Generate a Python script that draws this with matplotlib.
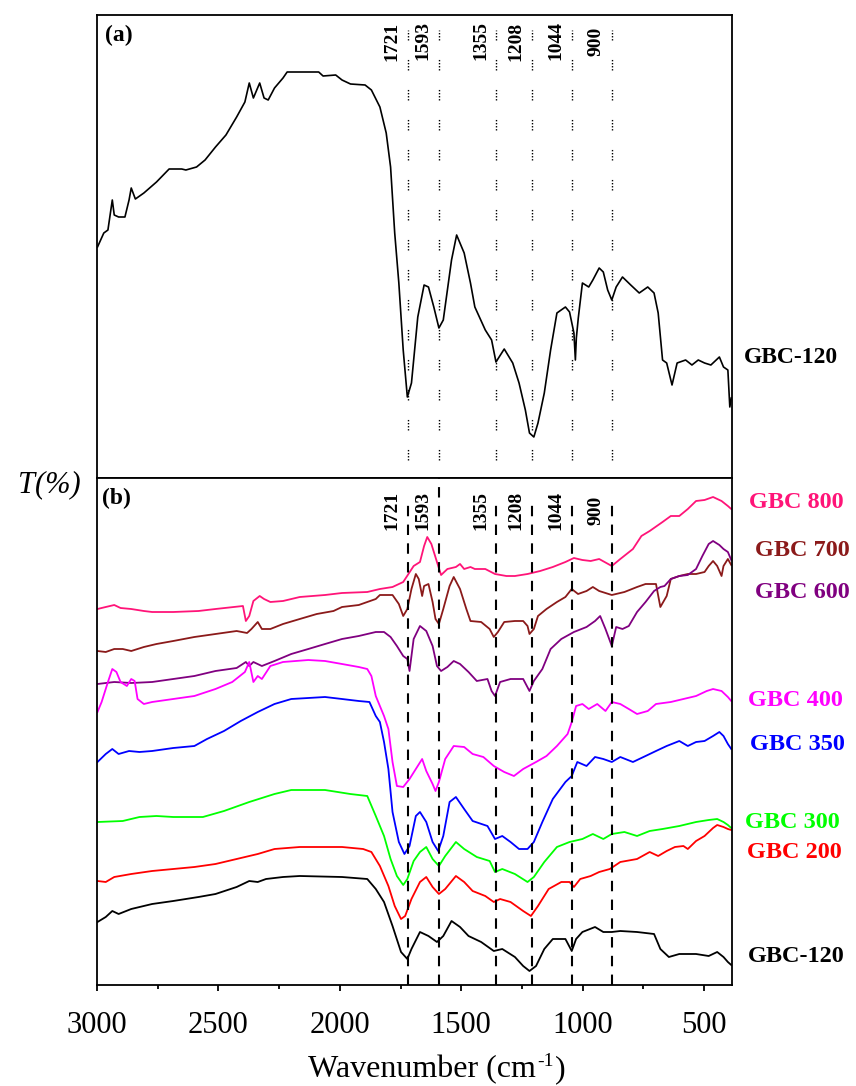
import matplotlib
matplotlib.use("Agg")
import matplotlib.pyplot as plt
from matplotlib.ticker import MultipleLocator

plt.rcParams['font.family'] = ['Liberation Serif', 'DejaVu Serif']

# ---------------- data ----------------
# Panel (a): GBC-120 spectrum (arbitrary transmittance units)
WN_A = [2998, 2972, 2955, 2937, 2929, 2911, 2885, 2868, 2859, 2842, 2807, 2755, 2703,
        2651, 2634, 2590, 2555, 2512, 2469, 2425, 2391, 2373, 2356, 2330, 2312, 2295,
        2269, 2234, 2217, 2087, 2069, 2017, 1991, 1956, 1896, 1870, 1835, 1809, 1791,
        1774, 1757, 1739, 1722, 1705, 1679, 1653, 1635, 1613, 1592, 1574, 1540, 1519,
        1488, 1462, 1444, 1401, 1375, 1357, 1323, 1288, 1262, 1236, 1219, 1201, 1184,
        1158, 1132, 1106, 1071, 1054, 1036, 1030, 1026, 1018, 1001, 975, 958, 932, 915,
        897, 880, 862, 836, 802, 767, 732, 706, 689, 671, 654, 632, 611, 576, 550, 524,
        498, 472, 437, 420, 402, 394, 388]
T_A = [231, 245, 248, 278, 263, 261, 261, 278, 290, 279, 285, 296, 309,
       309, 308, 311, 318, 331, 343, 361, 376, 395, 380, 395, 380, 378,
       390, 400, 406, 406, 402, 403, 398, 394, 393, 388, 371, 345, 311,
       245, 195, 128, 81, 95, 161, 193, 191, 171, 150, 158, 218, 243,
       225, 195, 171, 148, 138, 116, 129, 115, 95, 68, 45, 41, 55,
       85, 128, 165, 171, 166, 145, 118, 140, 160, 195, 191, 198, 210, 206,
       188, 178, 191, 201, 193, 185, 191, 185, 165, 118, 115, 93, 115, 118, 113, 118,
       115, 113, 121, 111, 108, 71, 80]

# Panel (b) series
WN_800 = [2998, 2964, 2929, 2903, 2859, 2807, 2773, 2686, 2582, 2512, 2399, 2387, 2373,
          2356, 2330, 2312, 2286, 2234, 2165, 2061, 1991, 1887, 1835, 1783, 1739, 1696,
          1670, 1653, 1640, 1623, 1600, 1583, 1557, 1522, 1505, 1488, 1462, 1444, 1401,
          1361, 1314, 1279, 1227, 1175, 1123, 1071, 1036, 1001, 967, 932, 880, 845, 793,
          758, 724, 671, 637, 602, 567, 533, 498, 463, 428, 402, 388]
T_800 = [376, 378, 380, 377, 376, 374, 373, 373, 374, 376, 379, 364, 369,
         384, 389, 386, 383, 384, 388, 390, 392, 393, 396, 398, 403, 419,
         423, 439, 448, 441, 423, 410, 416, 418, 421, 416, 418, 416, 416,
         411, 409, 409, 411, 414, 418, 423, 427, 425, 424, 426, 419, 426, 436,
         449, 454, 463, 469, 469, 476, 484, 485, 488, 484, 479, 476]

WN_700 = [2998, 2964, 2929, 2894, 2859, 2807, 2755, 2686, 2599, 2512, 2425, 2382, 2364,
          2338, 2321, 2286, 2234, 2165, 2095, 2026, 1991, 1922, 1852, 1835, 1783, 1757,
          1739, 1722, 1705, 1687, 1675, 1661, 1653, 1635, 1618, 1606, 1592, 1574, 1548,
          1531, 1505, 1479, 1462, 1418, 1383, 1366, 1349, 1323, 1279, 1245, 1227, 1219,
          1201, 1184, 1149, 1106, 1071, 1045, 1019, 984, 958, 932, 880, 828, 776, 741,
          698, 680, 654, 637, 602, 567, 533, 498, 481, 463, 446, 428, 420, 402, 388]
T_700 = [334, 333, 336, 336, 334, 338, 341, 344, 348, 351, 354, 352, 356,
         363, 356, 356, 361, 366, 371, 374, 378, 380, 386, 390, 390, 381,
         369, 376, 396, 411, 406, 389, 399, 401, 383, 366, 361, 376, 399,
         408, 396, 376, 364, 363, 356, 348, 353, 363, 364, 364, 359, 351,
         356, 369, 376, 383, 388, 396, 391, 394, 398, 394, 390, 393, 398, 401,
         401, 378, 389, 406, 409, 411, 411, 413, 419, 424, 419, 409, 419, 426, 420]

WN_600 = [2998, 2929, 2859, 2773, 2686, 2599, 2512, 2425, 2387, 2373, 2356, 2321, 2269,
          2200, 2130, 2061, 1991, 1922, 1852, 1818, 1791, 1765, 1739, 1722, 1713, 1696,
          1670, 1644, 1618, 1600, 1583, 1557, 1531, 1505, 1470, 1436, 1392, 1375, 1361,
          1340, 1297, 1245, 1219, 1201, 1166, 1132, 1088, 1036, 984, 949, 928, 906, 880,
          862, 836, 810, 776, 741, 706, 680, 663, 637, 602, 567, 533, 507, 481, 463, 437,
          420, 402, 388]
T_600 = [301, 303, 302, 303, 306, 309, 314, 317, 323, 319, 323, 319, 324,
         331, 336, 341, 346, 349, 353, 353, 348, 339, 329, 326, 314, 346,
         359, 354, 339, 319, 314, 318, 324, 321, 313, 304, 306, 294, 289,
         303, 306, 306, 294, 304, 316, 336, 346, 353, 358, 364, 369, 356, 339,
         358, 356, 359, 373, 383, 394, 398, 399, 406, 409, 410, 416, 429, 441, 444, 440,
         436, 433, 425]

WN_400 = [2998, 2981, 2955, 2937, 2920, 2903, 2877, 2859, 2845, 2833, 2807, 2773, 2686,
          2599, 2512, 2443, 2391, 2373, 2356, 2338, 2321, 2286, 2234, 2130, 2061, 1991,
          1922, 1887, 1870, 1852, 1818, 1800, 1783, 1765, 1739, 1713, 1687, 1661, 1644,
          1618, 1606, 1592, 1566, 1531, 1488, 1453, 1409, 1366, 1323, 1283, 1245, 1192,
          1149, 1106, 1062, 1045, 1027, 1001, 975, 940, 906, 880, 845, 810, 776, 732, 698,
          637, 585, 533, 489, 463, 428, 402, 388]
T_400 = [273, 283, 303, 316, 313, 303, 299, 306, 304, 286, 281, 283, 286,
         289, 296, 303, 313, 323, 303, 309, 306, 319, 323, 325, 324, 321,
         318, 316, 309, 289, 269, 256, 223, 199, 198, 206, 216, 226, 214,
         201, 194, 203, 226, 239, 238, 231, 228, 219, 213, 209, 216, 223,
         229, 239, 251, 263, 279, 281, 276, 281, 274, 283, 281, 276, 271, 274, 281,
         283, 286, 289, 294, 296, 294, 288, 284]

WN_350 = [2998, 2964, 2937, 2911, 2868, 2825, 2773, 2686, 2599, 2547, 2477, 2408, 2338,
          2269, 2200, 2130, 2061, 1991, 1922, 1878, 1852, 1835, 1818, 1800, 1783, 1757,
          1734, 1713, 1687, 1670, 1644, 1618, 1595, 1574, 1548, 1522, 1488, 1453, 1392,
          1361, 1331, 1297, 1262, 1227, 1201, 1166, 1123, 1071, 1045, 1022, 984, 949, 915,
          880, 845, 793, 741, 698, 654, 602, 567, 533, 498, 463, 437, 420, 402, 388]
T_350 = [223, 231, 236, 231, 234, 233, 234, 237, 239, 246, 254, 264, 273,
         281, 286, 287, 288, 286, 284, 283, 269, 263, 243, 216, 173, 143,
         131, 139, 169, 173, 163, 143, 134, 149, 183, 188, 176, 164, 159,
         146, 149, 143, 136, 136, 143, 163, 186, 203, 209, 223, 219, 228, 226,
         223, 228, 223, 229, 234, 239, 244, 239, 243, 244, 249, 253, 249, 241, 236]

WN_300 = [2998, 2894, 2825, 2755, 2686, 2564, 2477, 2373, 2269, 2200, 2061, 1957, 1887,
          1852, 1818, 1791, 1765, 1739, 1722, 1696, 1670, 1644, 1618, 1592, 1566, 1522,
          1488, 1436, 1383, 1361, 1331, 1279, 1227, 1201, 1158, 1106, 1054, 1001, 958,
          915, 880, 828, 776, 724, 671, 602, 533, 481, 446, 420, 402, 388]
T_300 = [163, 164, 168, 169, 168, 168, 174, 183, 191, 195, 195, 191, 189,
         169, 149, 126, 109, 100, 106, 124, 133, 138, 126, 119, 129, 143,
         136, 128, 124, 113, 116, 111, 103, 108, 123, 138, 143, 146, 151,
         146, 151, 153, 149, 154, 156, 159, 163, 165, 166, 163, 160, 157]

WN_200 = [2998, 2964, 2929, 2859, 2773, 2686, 2599, 2512, 2425, 2338, 2269, 2165, 1991,
          1904, 1870, 1835, 1800, 1774, 1748, 1731, 1705, 1670, 1644, 1618, 1592, 1566,
          1522, 1488, 1453, 1401, 1366, 1340, 1297, 1245, 1213, 1184, 1140, 1088, 1054,
          1036, 1010, 967, 932, 888, 845, 776, 724, 689, 654, 620, 585, 567, 533, 498,
          463, 446, 420, 402, 388]
T_200 = [104, 103, 108, 111, 114, 116, 118, 121, 126, 131, 136, 138, 138,
         136, 133, 119, 99, 79, 66, 69, 86, 103, 108, 98, 91, 96,
         109, 103, 94, 89, 83, 86, 83, 74, 69, 79, 96, 103, 103,
         98, 106, 109, 113, 116, 123, 126, 133, 129, 134, 138, 139, 136, 144, 149,
         157, 160, 158, 156, 155]

WN_120 = [2998, 2964, 2937, 2911, 2859, 2773, 2686, 2582, 2512, 2425, 2373, 2338, 2304,
          2234, 2165, 1991, 1887, 1852, 1818, 1783, 1748, 1722, 1705, 1670, 1635, 1600,
          1574, 1540, 1505, 1470, 1418, 1366, 1331, 1279, 1245, 1219, 1192, 1158, 1123,
          1071, 1045, 1027, 1001, 949, 915, 880, 845, 776, 706, 680, 645, 602, 533, 481,
          446, 420, 402, 388]
T_120 = [63, 68, 74, 71, 76, 81, 84, 88, 91, 98, 104, 103, 106,
         108, 109, 108, 106, 96, 83, 59, 33, 26, 36, 53, 49, 43,
         49, 64, 58, 49, 43, 34, 36, 28, 19, 14, 19, 36, 46,
         46, 34, 46, 53, 58, 53, 53, 54, 53, 51, 36, 28, 31, 31, 29,
         33, 28, 23, 20]

SERIES_B = ["GBC 800", "GBC 700", "GBC 600", "GBC 400", "GBC 350", "GBC 300", "GBC 200", "GBC-120"]
COLORS_B = ["#FF1478", "#8B1A1A", "#800080", "#FF00FF", "#0000FF", "#00FF00", "#FF0000", "#000000"]
DATA_B = [(WN_800, T_800), (WN_700, T_700), (WN_600, T_600), (WN_400, T_400),
          (WN_350, T_350), (WN_300, T_300), (WN_200, T_200), (WN_120, T_120)]

PEAK_POS = [1721, 1593, 1355, 1208, 1044, 878]
PEAK_LABELS = ["1721", "1593", "1355", "1208", "1044", "900"]

X_TICKS = [3000, 2500, 2000, 1500, 1000, 500]

# ---------------- figure ----------------
W, H = 856, 1086
fig = plt.figure(figsize=(W / 100, H / 100), dpi=100)

L, R = 97 / W, 732 / W
ax_a = fig.add_axes([L, 1 - 478 / H, R - L, (478 - 15) / H])
ax_b = fig.add_axes([L, 1 - 985 / H, R - L, (985 - 478) / H])

XLIM = (3000, 385)
for ax in (ax_a, ax_b):
    ax.set_xlim(*XLIM)
    ax.set_yticks([])
    for s in ax.spines.values():
        s.set_linewidth(1.3)

ax_a.set_ylim(0, 463)
ax_b.set_ylim(0, 507)

# Panel (a)
ax_a.plot(WN_A, T_A, color="black", lw=1.2)
dot_style = (0, (1, 1.2, 1, 1.2, 1, 1.2, 1, 14))
for p, lab in zip(PEAK_POS, PEAK_LABELS):
    ax_a.plot([p, p], [18, 448], color="black", lw=1.0, linestyle=dot_style)
    ax_a.annotate(lab, xy=(p, 437), xytext=(-16, 0), textcoords="offset pixels",
                  rotation=90, ha="center", va="center", fontsize=14, fontweight="bold")
ax_a.tick_params(axis="x", which="both", bottom=False, labelbottom=False)
ax_a.text(0.012, 0.955, "(a)", transform=ax_a.transAxes, fontsize=17,
          fontweight="bold", ha="left", va="center")

# Panel (b)
for (wn, t), c in zip(DATA_B, COLORS_B):
    ax_b.plot(wn, t, color=c, lw=1.3)
for p, lab in zip(PEAK_POS, PEAK_LABELS):
    top = 507 if lab == "1593" else 486
    ax_b.plot([p, p], [0, top], color="black", lw=1.5, linestyle=(0, (5, 4)))
    ax_b.annotate(lab, xy=(p, 475), xytext=(-16, 0), textcoords="offset pixels",
                  rotation=90, ha="center", va="center", fontsize=14, fontweight="bold")
ax_b.text(0.008, 0.96, "(b)", transform=ax_b.transAxes, fontsize=17,
          fontweight="bold", ha="left", va="center")

ax_b.set_xticks(X_TICKS)
ax_b.xaxis.set_minor_locator(MultipleLocator(250))
ax_b.tick_params(axis="x", which="major", direction="out", length=4, width=1.3,
                 labelsize=22, pad=15)
ax_b.tick_params(axis="x", which="minor", direction="out", length=3, width=1.3)
ax_b.set_xlim(*XLIM)

# Right-side labels
fig.text(744 / W, 1 - 358 / H, "GBC-120", color="black", fontsize=17,
         fontweight="bold", ha="left", va="center")
label_pos = [(749, 503), (755, 550), (755, 593), (748, 700), (750, 745), (745, 822),
             (747, 853), (748, 957)]
for (x, y), name, c in zip(label_pos, SERIES_B, COLORS_B):
    fig.text(x / W, 1 - y / H, name, color=c, fontsize=17.5, fontweight="bold",
             ha="left", va="center")

fig.text(49 / W, 1 - 485 / H, "T(%)", fontsize=22, fontstyle="italic",
         ha="center", va="center")

# x-axis title with a hyphen superscript, assembled from pieces
fig.canvas.draw()
renderer = fig.canvas.get_renderer()
base_y = 1 - 1077 / H
t_main = fig.text(0, base_y, "Wavenumber (cm", fontsize=23, ha="left", va="baseline")
t_sup = fig.text(0, base_y, "-1", fontsize=14, ha="left", va="baseline")
t_end = fig.text(0, base_y, ")", fontsize=23, ha="left", va="baseline")
w_main = t_main.get_window_extent(renderer).width
w_sup = t_sup.get_window_extent(renderer).width
w_end = t_end.get_window_extent(renderer).width
total = w_main + w_sup + w_end
x0 = 436 - total / 2
t_main.set_x(x0 / W)
t_sup.set_x((x0 + w_main + 1) / W)
t_sup.set_y(base_y + 11 / H)
t_end.set_x((x0 + w_main + w_sup + 2) / W)

fig.savefig("out.png", dpi=100)
